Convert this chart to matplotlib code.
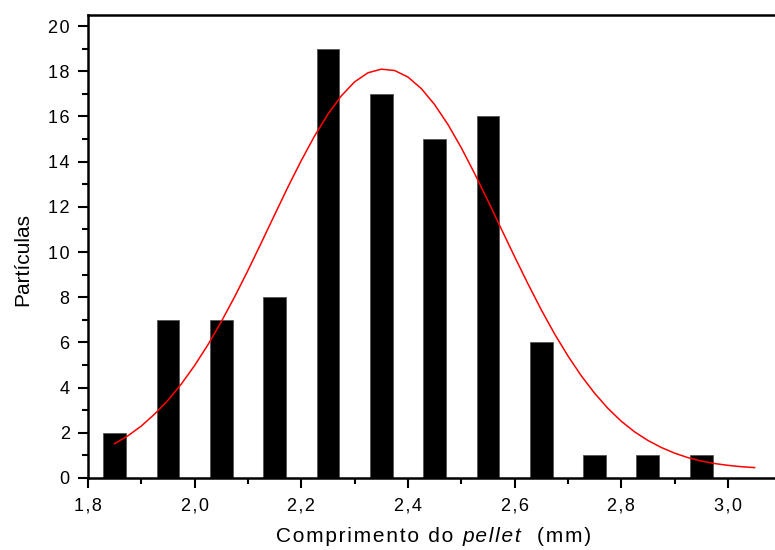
import matplotlib
matplotlib.use("Agg")
import matplotlib.pyplot as plt
from matplotlib.ticker import MultipleLocator, FuncFormatter
from matplotlib.offsetbox import TextArea, HPacker, AnnotationBbox

# Histogram data
bin_centers = [1.85, 1.95, 2.05, 2.15, 2.25, 2.35, 2.45, 2.55, 2.65, 2.75, 2.85, 2.95]
counts = [2, 7, 7, 8, 19, 17, 15, 16, 6, 1, 1, 1]

# Fitted curve, points
curve_x = [1.850, 1.875, 1.900, 1.925, 1.950, 1.975, 2.000, 2.025, 2.050, 2.075,
           2.100, 2.125, 2.150, 2.175, 2.200, 2.225, 2.250, 2.275, 2.300, 2.325,
           2.350, 2.375, 2.400, 2.425, 2.450, 2.475, 2.500, 2.525, 2.550, 2.575,
           2.600, 2.625, 2.650, 2.675, 2.700, 2.725, 2.750, 2.775, 2.800, 2.825,
           2.850, 2.875, 2.900, 2.925, 2.950, 2.975, 3.000, 3.025, 3.050]
curve_y = [1.52, 1.87, 2.30, 2.83, 3.44, 4.16, 4.98, 5.90, 6.92, 8.02,
           9.19, 10.41, 11.65, 12.88, 14.05, 15.14, 16.10, 16.91, 17.53, 17.93,
           18.09, 18.03, 17.74, 17.23, 16.52, 15.64, 14.61, 13.47, 12.26, 11.02,
           9.79, 8.59, 7.44, 6.37, 5.40, 4.52, 3.75, 3.08, 2.51, 2.04,
           1.66, 1.35, 1.10, 0.90, 0.75, 0.64, 0.56, 0.50, 0.46]

xlabel_parts = ["Comprimento do", "pellet", "(mm)"]
ylabel_text = "Partículas"

plt.rcParams['font.family'] = ['Liberation Sans', 'DejaVu Sans']

hs = '\u200a'
def spaced(s):
    return hs.join(s)

fig = plt.figure(figsize=(7.75, 5.5), dpi=100)
ax = fig.add_axes([88/775, 1-478/550, 1-88/775, (478-15)/550])

ax.bar(bin_centers, counts, width=0.043, color='black', edgecolor='#555555', linewidth=0.6, zorder=2)
ax.plot(curve_x, curve_y, color='red', linewidth=1.1, zorder=3)

ax.set_xlim(1.8, 1.8 + (775-88)/533.3)
ax.set_ylim(0, 20 + 11/22.6)

ax.xaxis.set_major_locator(MultipleLocator(0.2))
ax.xaxis.set_minor_locator(MultipleLocator(0.1))
ax.yaxis.set_major_locator(MultipleLocator(2))
ax.yaxis.set_minor_locator(MultipleLocator(1))
ax.xaxis.set_major_formatter(FuncFormatter(lambda v, p: spaced(f"{v:.1f}".replace('.', ','))))
ax.yaxis.set_major_formatter(FuncFormatter(lambda v, p: spaced(f"{int(round(v))}")))

ax.tick_params(which='major', direction='out', length=7.2, width=1.5, labelsize=13)
ax.tick_params(axis='x', which='major', pad=7)
ax.tick_params(axis='y', which='major', pad=6)
ax.tick_params(which='minor', direction='out', length=4, width=1.5)

for s in ['left', 'bottom', 'top']:
    ax.spines[s].set_linewidth(1.8)
ax.spines['right'].set_visible(False)

fs = 15
p1 = TextArea(spaced(xlabel_parts[0]), textprops=dict(fontsize=fs, color='black'))
p2 = TextArea(spaced(xlabel_parts[1]), textprops=dict(fontsize=fs, style='italic', color='black'))
p3 = TextArea(spaced(xlabel_parts[2]), textprops=dict(fontsize=fs, color='black'))
pack1 = HPacker(children=[p1, p2], align='baseline', pad=0, sep=6)
pack = HPacker(children=[pack1, p3], align='baseline', pad=0, sep=12)
ab = AnnotationBbox(pack, (434, 550 - 537), xycoords='figure pixels',
                    box_alignment=(0.5, 0.5), frameon=False, pad=0)
fig.add_artist(ab)

fig.text(23/775, 1 - 260/550, ylabel_text, rotation=90, fontsize=15,
         ha='center', va='center')

fig.savefig("out.png", dpi=100)
